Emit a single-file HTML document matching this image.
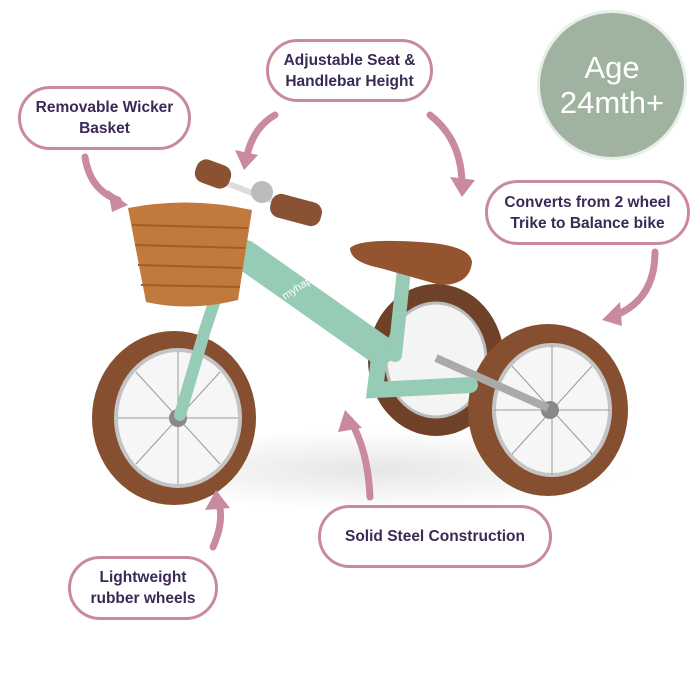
<!DOCTYPE html>
<html><head><meta charset="utf-8"><style>
html,body{margin:0;padding:0;background:#fff;}
body{width:700px;height:700px;position:relative;overflow:hidden;font-family:"Liberation Sans",sans-serif;}
.pill{position:absolute;box-sizing:border-box;border:3px solid #c98a9f;border-radius:34px;background:#fff;color:#3b2a55;font-weight:bold;font-size:15.5px;line-height:21px;text-align:center;display:flex;align-items:center;justify-content:center;}
.circ{position:absolute;left:540px;top:13px;width:144px;height:144px;border-radius:50%;background:#9fb3a0;color:#fff;font-size:31px;line-height:35px;text-align:center;display:flex;align-items:center;justify-content:center;box-shadow:0 0 0 3px #e8eee8;}
svg{position:absolute;left:0;top:0;}
</style></head><body>
<svg width="700" height="700" viewBox="0 0 700 700">
 <defs>
  <radialGradient id="sh" cx="50%" cy="50%" r="50%"><stop offset="0" stop-color="#e6e6e6"/><stop offset="1" stop-color="#fff"/></radialGradient>
 </defs>
 <ellipse cx="370" cy="470" rx="260" ry="40" fill="url(#sh)"/>
 <ellipse cx="436" cy="360" rx="68" ry="76" fill="#6e4128"/>
 <ellipse cx="436" cy="360" rx="50" ry="57" fill="#f4f4f4" stroke="#bbb" stroke-width="3"/>
 <ellipse cx="174" cy="418" rx="82" ry="87" fill="#854f30"/>
 <ellipse cx="178" cy="418" rx="62" ry="68" fill="#f6f6f6" stroke="#c4c4c4" stroke-width="4"/>
 <g stroke="#999" stroke-width="1">
  <line x1="178" y1="352" x2="178" y2="484"/><line x1="118" y1="418" x2="238" y2="418"/>
  <line x1="136" y1="372" x2="220" y2="464"/><line x1="220" y1="372" x2="136" y2="464"/>
 </g>
 <circle cx="178" cy="418" r="9" fill="#888"/>
 <ellipse cx="548" cy="410" rx="80" ry="86" fill="#854f30"/>
 <ellipse cx="552" cy="410" rx="58" ry="65" fill="#f6f6f6" stroke="#c4c4c4" stroke-width="4"/>
 <g stroke="#999" stroke-width="1">
  <line x1="552" y1="345" x2="552" y2="475"/><line x1="494" y1="410" x2="610" y2="410"/>
  <line x1="512" y1="366" x2="592" y2="454"/><line x1="592" y1="366" x2="512" y2="454"/>
 </g>
 <circle cx="550" cy="410" r="9" fill="#888"/>
 <line x1="436" y1="358" x2="548" y2="408" stroke="#aaa" stroke-width="8"/>
 <g stroke="#96cbb5" stroke-linecap="round" fill="none">
  <path d="M245 255 L380 350" stroke-width="30"/>
  <path d="M380 350 L375 390 L470 385" stroke-width="16"/>
  <path d="M405 260 L395 355" stroke-width="14"/>
  <path d="M235 240 L205 330 L180 415" stroke-width="12"/>
 </g>
 <text x="285" y="300" font-family="Liberation Sans" font-size="11" fill="#fff" transform="rotate(-33 285 300)">myhappyhelpers</text>
 <path d="M350 248 Q360 238 420 242 Q470 245 472 262 Q470 285 440 285 L380 268 Q350 262 350 248Z" fill="#93542f"/>
 <line x1="205" y1="175" x2="310" y2="215" stroke="#ddd" stroke-width="6"/>
 <rect x="195" y="162" width="36" height="24" rx="10" fill="#8a5233" transform="rotate(20 213 174)"/>
 <rect x="270" y="198" width="52" height="24" rx="10" fill="#8a5233" transform="rotate(15 296 210)"/>
 <circle cx="262" cy="192" r="11" fill="#bbb"/>
 <path d="M128 208 Q190 196 252 210 L238 300 Q190 312 146 302 Z" fill="#c27a3c"/>
 <g stroke="#a05e26" stroke-width="2">
  <line x1="132" y1="225" x2="248" y2="228"/><line x1="135" y1="245" x2="245" y2="248"/>
  <line x1="138" y1="265" x2="242" y2="268"/><line x1="141" y1="285" x2="240" y2="287"/>
 </g>
 <g fill="none" stroke="#c98a9f" stroke-width="7" stroke-linecap="round">
  <path d="M85 157 Q90 190 118 200"/>
  <path d="M275 115 Q252 128 246 160"/>
  <path d="M430 115 Q462 140 462 185"/>
  <path d="M655 252 Q655 300 614 316"/>
  <path d="M370 497 Q368 450 350 420"/>
  <path d="M213 547 Q225 520 218 500"/>
 </g>
 <g fill="#c98a9f">
  <polygon points="128,205 108,190 112,212"/>
  <polygon points="244,170 235,150 258,155"/>
  <polygon points="462,197 450,177 475,180"/>
  <polygon points="602,320 620,302 622,326"/>
  <polygon points="345,410 338,432 362,428"/>
  <polygon points="216,490 205,510 230,508"/>
 </g>
</svg>
<div class="pill" style="left:266px;top:39px;width:167px;height:63px;">Adjustable Seat &amp;<br>Handlebar Height</div>
<div class="pill" style="left:18px;top:86px;width:173px;height:64px;">Removable Wicker<br>Basket</div>
<div class="circ"><div>Age<br>24mth+</div></div>
<div class="pill" style="left:485px;top:180px;width:205px;height:65px;">Converts from 2 wheel<br>Trike to Balance bike</div>
<div class="pill" style="left:318px;top:505px;width:234px;height:63px;">Solid Steel Construction</div>
<div class="pill" style="left:68px;top:556px;width:150px;height:64px;">Lightweight<br>rubber wheels</div>
</body></html>
